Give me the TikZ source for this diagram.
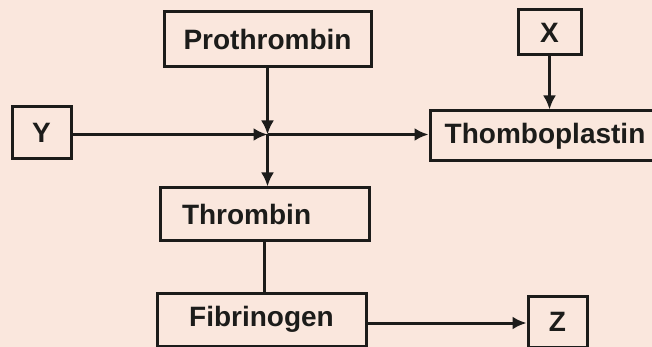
\documentclass[tikz,border=0pt]{standalone}
\usepackage{fontspec}
\setmainfont{Liberation Sans}
\usetikzlibrary{arrows.meta, positioning}
\definecolor{papelrosa}{HTML}{FAE7DD}
\definecolor{tintaoscura}{HTML}{1C1C1A}
\colorlet{colFondo}{papelrosa}
\colorlet{colLinea}{tintaoscura}
\tikzset{
  cajaBase/.style={
    draw=colLinea, line width=3pt,
    inner sep=0pt, align=center,
    font=\fontsize{28}{32}\selectfont\bfseries, text=colLinea
  },
  cajaLetra/.style={cajaBase},
  flecha/.style={-{Latex[length=14pt, width=13pt]}, line width=3pt, colLinea},
  linea/.style={line width=3pt, colLinea},
}

\begin{document}
\begin{tikzpicture}[x=1pt, y=-1pt]
    \useasboundingbox (0,0) rectangle (652,347);
    \fill[colFondo] (0,0) rectangle (652,347);
    \clip (0,0) rectangle (652,347);

    \node[cajaBase, minimum width=207pt, minimum height=55pt] (proth) at (267.5,39.5) {Prothrombin};
    \node[cajaLetra, minimum width=59pt, minimum height=52pt] (y) at (41.5,133) {Y};
    \node[cajaLetra, minimum width=63pt, minimum height=45pt] (x) at (549.5,32.5) {X};
    \node[cajaBase, minimum width=230pt, minimum height=50pt] (thombo) at (545,136) {Thomboplastin};
    \node[cajaBase, text width=165pt, inner xsep=22pt, align=left, minimum height=52pt] (thromb) at (264.5,214) {Thrombin};
    \node[cajaBase, minimum width=209pt, minimum height=53pt] (fibrin) at (261.5,319.5) {Fibrinogen};
    \node[cajaLetra, minimum width=59pt, minimum height=51pt] (z) at (557.5,321.5) {Z};

    \coordinate (cruce) at (proth.south |- 0,134.5);

    \draw[flecha] (proth.south) -- (cruce);
    \draw[flecha] (y.east |- cruce) -- (cruce);
    \draw[flecha] (cruce) -- (cruce -| thombo.west);
    \draw[flecha] (cruce) -- (cruce |- thromb.north);
    \draw[flecha] (x.south) -- (x.south |- thombo.north);
    \draw[linea] (thromb.south) -- (thromb.south |- fibrin.north);
    \draw[flecha] (fibrin.east |- 0,323) -- (z.west |- 0,323);
  \end{tikzpicture}
\end{document}
